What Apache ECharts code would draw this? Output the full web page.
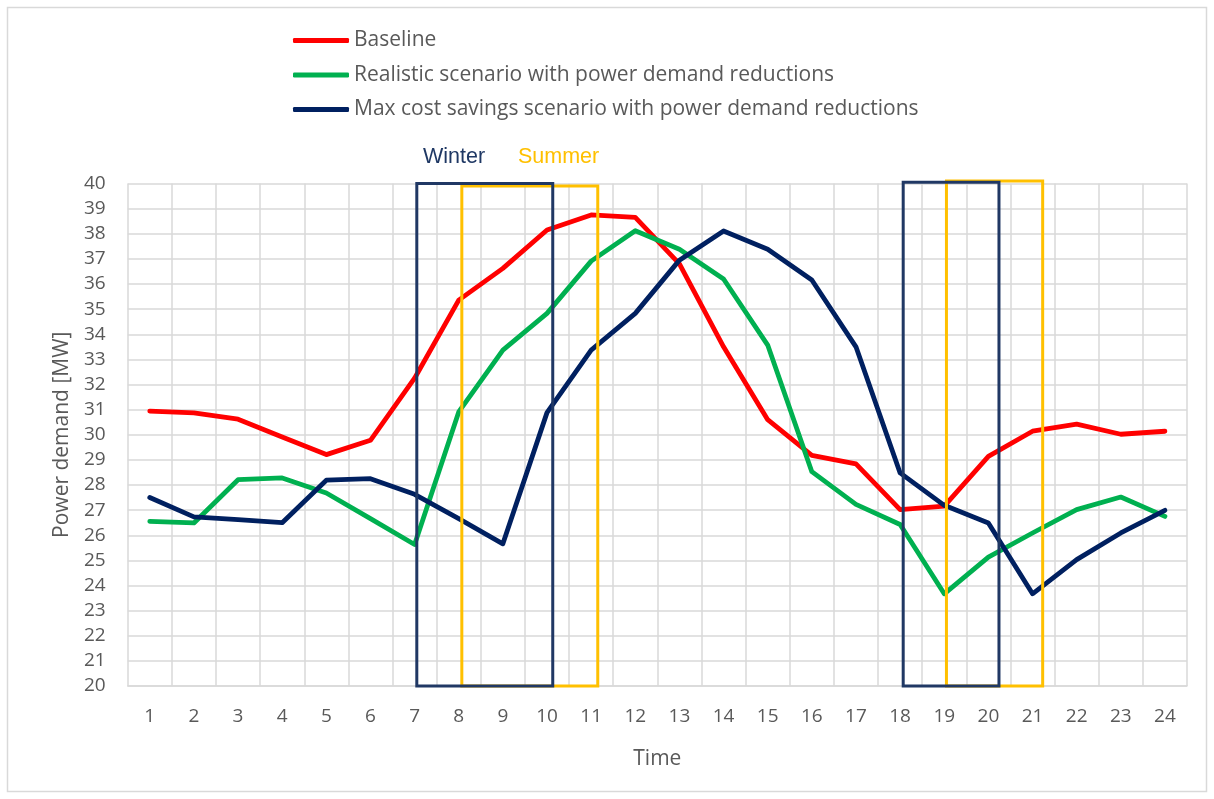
<!DOCTYPE html>
<html>
<head>
<meta charset="utf-8">
<script src="https://cdn.jsdelivr.net/npm/echarts@6/dist/echarts.min.js"></script>
<style>
html,body{margin:0;padding:0;background:#fff;}
#chart{width:1214px;height:799px;}
</style>
</head>
<body>
<div id="chart"></div>
<script>
// ---- data ----
const hours = ['1','2','3','4','5','6','7','8','9','10','11','12','13','14','15','16','17','18','19','20','21','22','23','24'];
const baseline = [30.94,30.87,30.62,29.91,29.21,29.78,32.25,35.36,36.62,38.15,38.75,38.65,36.8,33.5,30.6,29.18,28.84,27.02,27.16,29.14,30.14,30.42,30.02,30.14];
const realistic = [26.55,26.49,28.21,28.28,27.68,26.66,25.63,30.91,33.37,34.83,36.91,38.12,37.38,36.2,33.57,28.53,27.23,26.43,23.67,25.13,26.09,27.02,27.52,26.75];
const maxSavings = [27.5,26.73,26.62,26.5,28.19,28.25,27.63,26.66,25.66,30.88,33.37,34.83,36.95,38.11,37.38,36.16,33.5,28.48,27.19,26.49,23.67,25.03,26.09,26.99];
const seriesNames = ['Baseline','Realistic scenario with power demand reductions','Max cost savings scenario with power demand reductions'];
// highlight boxes in hour units: [start, end, top, bottom]
const winterBoxes = [[7.05,10.13,40,20],[18.07,20.24,40.05,20]];
const summerBoxes = [[8.07,11.15,39.9,20],[19.05,21.23,40.1,20]];
const yTicks = {min:20, max:40, step:1};

const chart = echarts.init(document.getElementById('chart'));
const txt = '#595959';
const grid = '#d9d9d9';
const font = '"Open Sans", Lato, sans-serif';

function boxSeries(name, boxes, color, z){
  return {
    type:'custom', name:name, xAxisIndex:1, yAxisIndex:0, z:z, silent:true,
    encode:{x:[0,1], y:[2,3]},
    data: boxes,
    renderItem:function(params, api){
      const p0 = api.coord([api.value(0), api.value(2)]);
      const p1 = api.coord([api.value(1), api.value(3)]);
      return {type:'rect', shape:{x:p0[0], y:p0[1], width:p1[0]-p0[0], height:p1[1]-p0[1]},
        style:{fill:'none', stroke:color, lineWidth:3}};
    }
  };
}

const lineCommon = {type:'line', symbol:'none', smooth:false, z:3};
chart.setOption({
  animation:false,
  backgroundColor:'#fff',
  textStyle:{fontFamily:font},
  graphic:[
    {type:'rect', shape:{x:7.5,y:7.5,width:1199,height:784}, style:{fill:'none', stroke:grid, lineWidth:1.5}, silent:true, z:-1},
    {type:'text', left:423, top:146, style:{text:'Winter', fill:'#1f3864', font:'21.5px "Liberation Sans", Arial, sans-serif'}},
    {type:'text', left:518, top:146, style:{text:'Summer', fill:'#ffc000', font:'21.5px "Liberation Sans", Arial, sans-serif'}}
  ],
  legend:{
    orient:'vertical', left:288, top:25, itemWidth:56, itemHeight:5, itemGap:13.5,
    icon:'roundRect',
    data:seriesNames,
    textStyle:{color:txt, fontSize:21, fontFamily:font}
  },
  grid:{left:127.7, right:27, top:183.5, bottom:113, containLabel:false},
  xAxis:[
    {type:'category', data:hours, boundaryGap:true,
     axisLine:{lineStyle:{color:grid, width:1.5}}, axisTick:{show:false},
     axisLabel:{color:txt, fontSize:19, margin:21, fontFamily:font},
     splitLine:{show:true, lineStyle:{color:grid, width:1.5}},
     name:'Time', nameLocation:'middle', nameGap:63,
     nameTextStyle:{color:txt, fontSize:21, fontFamily:font}},
    {type:'value', min:0.5, max:24.5, show:false}
  ],
  yAxis:{type:'value', min:yTicks.min, max:yTicks.max, interval:yTicks.step,
    axisLine:{show:false}, axisTick:{show:false},
    axisLabel:{color:txt, fontSize:19, margin:22, fontFamily:font},
    splitLine:{lineStyle:{color:grid, width:1.5}},
    name:'Power demand [MW]', nameLocation:'middle', nameGap:55, nameRotate:90,
    nameTextStyle:{color:txt, fontSize:21, fontFamily:font}},
  series:[
    Object.assign({}, lineCommon, {name:seriesNames[0], data:baseline, itemStyle:{color:'#ff0000'}, lineStyle:{color:'#ff0000', width:4.8, cap:'round', join:'round'}}),
    Object.assign({}, lineCommon, {name:seriesNames[1], data:realistic, itemStyle:{color:'#00b050'}, lineStyle:{color:'#00b050', width:4.8, cap:'round', join:'round'}}),
    Object.assign({}, lineCommon, {name:seriesNames[2], data:maxSavings, itemStyle:{color:'#002060'}, lineStyle:{color:'#002060', width:4.8, cap:'round', join:'round'}}),
    boxSeries('summerBox', summerBoxes, '#ffc000', 10),
    boxSeries('winterBox', winterBoxes, '#203864', 11)
  ]
});
</script>
</body>
</html>
